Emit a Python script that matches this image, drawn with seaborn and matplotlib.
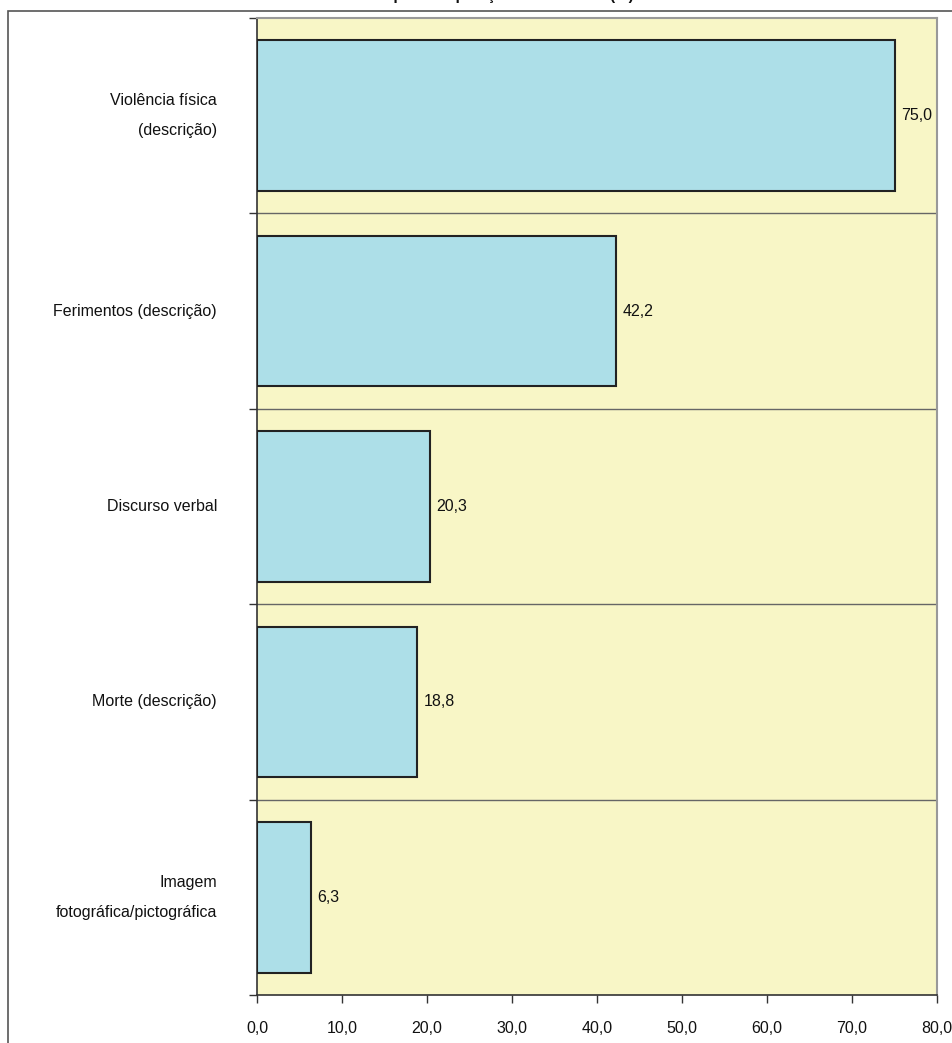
import matplotlib
matplotlib.use("Agg")
import matplotlib.pyplot as plt
import matplotlib.patches as mpatches
import seaborn as sns
import pandas as pd

categories = ["Violência física\n(descrição)", "Ferimentos (descrição)", "Discurso verbal",
              "Morte (descrição)", "Imagem\nfotográfica/pictográfica"]
values = [75.0, 42.2, 20.3, 18.8, 6.3]
xticks = [0, 10, 20, 30, 40, 50, 60, 70, 80]
title = "Tipo de exposição da violência (%)"

sns.set_theme(style="white")
plt.rcParams['font.family'] = ['Liberation Sans', 'DejaVu Sans']

W, H = 952, 1043
FS = 11.5
fig = plt.figure(figsize=(W / 100, H / 100), dpi=100)
ax = fig.add_axes([257 / W, 1 - 995 / H, (937 - 257) / W, (995 - 18) / H])

# outer frame
frame = mpatches.Rectangle((8 / W, -0.1), 1.2, 1 - 11 / H + 0.1, transform=fig.transFigure,
                           fill=False, edgecolor="#555555", linewidth=1.2, zorder=0)
fig.patches.append(frame)

df = pd.DataFrame({"cat": categories, "val": values})
sns.barplot(data=df, x="val", y="cat", orient="h", ax=ax, color="#ADDFE8",
            saturation=1, width=0.77, edgecolor="#222222", linewidth=1.5, zorder=3)

ax.set_facecolor("#F8F6C6")
ax.set_xlim(0, 80)
ax.set_ylim(len(categories) - 0.5, -0.5)
ax.set_xlabel("")
ax.set_ylabel("")

bounds = [i - 0.5 for i in range(len(categories) + 1)]
ax.set_yticks(bounds)
ax.set_yticklabels([])
for b in bounds[1:-1]:
    ax.axhline(b, color="#666666", linewidth=1.0, zorder=1)

ax.set_xticks(xticks)
ax.set_xticklabels([f"{t:.1f}".replace(".", ",") for t in xticks], fontsize=FS, color="#111111")
ax.tick_params(axis="x", direction="out", length=6, width=1, color="#333333", pad=13,
               bottom=True)
ax.tick_params(axis="y", direction="out", length=6, width=1, color="#333333", left=True)

for side in ["left", "bottom"]:
    ax.spines[side].set_color("#333333")
    ax.spines[side].set_linewidth(1.2)
for side in ["top", "right"]:
    ax.spines[side].set_color("#999999")
    ax.spines[side].set_linewidth(1.5)

# category labels
for i, c in enumerate(categories):
    ax.text(-0.0588, i, c, transform=ax.get_yaxis_transform(), ha="right", va="center",
            multialignment="right", fontsize=FS, color="#111111", linespacing=2.3)

# value labels
for i, v in enumerate(values):
    ax.annotate(f"{v:.1f}".replace(".", ","), (v, i), xytext=(5, 0), textcoords="offset points",
                ha="left", va="center", fontsize=FS, color="#111111")

fig.text(634 / W, 1.0, title, ha="right", va="baseline", fontsize=11, fontweight="bold",
         color="#111111")

fig.savefig("out.png", dpi=100)
